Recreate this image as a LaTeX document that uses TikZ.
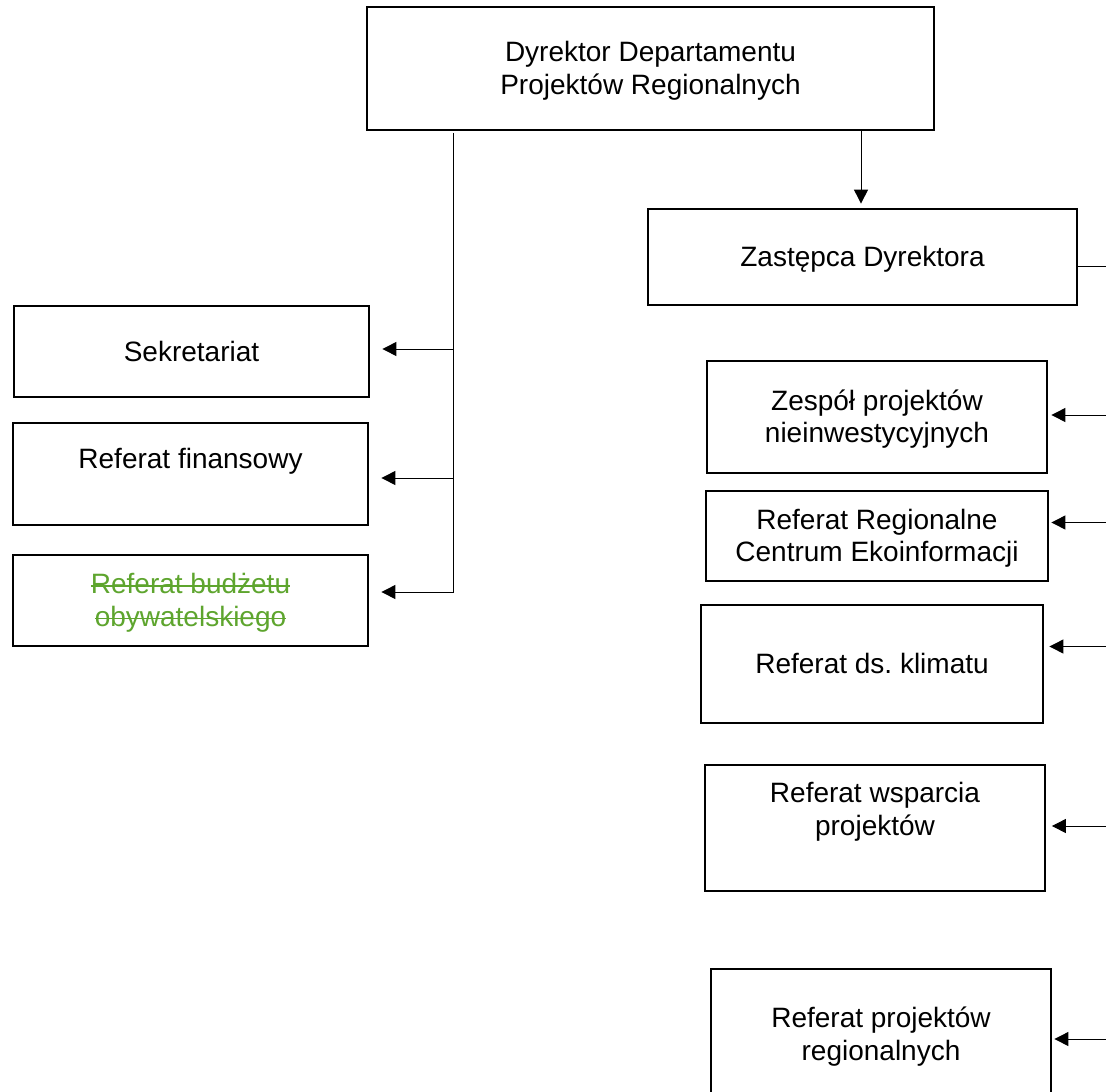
\documentclass[tikz,border=0pt]{standalone}
\usepackage{fontspec}
\setmainfont{Liberation Sans}
\usetikzlibrary{arrows.meta}
\definecolor{strikegreen}{RGB}{94,165,46}
\newcommand{\mystrike}[1]{\setbox0\hbox{#1}\rlap{\raisebox{0.5ex}{\rule{\wd0}{1.5pt}}}\box0}
\frenchspacing
\begin{document}
\begin{tikzpicture}[x=1pt,y=-1pt,
  box/.style={draw, line width=2.8pt, align=center, font=\fontsize{28}{32.5}\selectfont},
  txt/.style={align=center, inner sep=0pt, font=\fontsize{28}{32.5}\selectfont},
  oneline/.style={text height=25.3pt, text depth=5.9pt},
  twoline/.style={text height=57.8pt, text depth=5.9pt},
  conn/.style={line width=1pt},
  arr/.style={conn, -{Triangle[length=14pt,width=14pt]}}]
\fill[white] (0,0) rectangle (1106,1092);
\useasboundingbox (0,0) rectangle (1106,1092);

% left column
\node[box, twoline, minimum width=567pt, minimum height=123pt] (dir) at (650.5,68.5) {Dyrektor Departamentu\\Projektów Regionalnych};
\node[box, oneline, minimum width=429pt, minimum height=96pt] (zast) at (862.5,257) {Zastępca Dyrektora};
\node[box, oneline, minimum width=355pt, minimum height=91pt] (sek) at (191.5,351.5) {Sekretariat};
\node[box, minimum width=355pt, minimum height=102pt] (fin) at (190.5,474) {};
\node[txt, anchor=base] (fintxt) at (190.5,468) {Referat finansowy};
\node[box, twoline, minimum width=355pt, minimum height=91pt, text=strikegreen] (bud) at (190.5,600.5) {\mystrike{Referat budżetu}\\\mystrike{obywatelskiego}};

% right column
\node[box, twoline, minimum width=340pt, minimum height=112pt] (zesp) at (877,417) {Zespół projektów\\nieinwestycyjnych};
\node[box, twoline, minimum width=342pt, minimum height=90pt] (reg) at (877,536) {Referat Regionalne\\Centrum Ekoinformacji};
\node[box, oneline, minimum width=342pt, minimum height=118pt] (klim) at (872,664) {Referat ds. klimatu};
\node[box, minimum width=340pt, minimum height=126pt] (wsp) at (875,828) {};
\node[txt, twoline, anchor=north] (wsptxt) at (875,777) {Referat wsparcia\\projektów};
\node[box, twoline, minimum width=340pt, minimum height=131pt] (proj) at (881,1034.5) {Referat projektów\\regionalnych};

% left trunk
\coordinate (lt) at (453,0);
\coordinate (l1) at (453,349);
\coordinate (l2) at (453,478);
\coordinate (l3) at (453,592);
\draw[arr, shorten <=1.5pt, shorten >=12pt] (dir.south -| lt) -- (l3) -- (l3 -| bud.east);
\draw[arr, shorten >=12pt] (l1) -- (l1 -| sek.east);
\draw[arr, shorten >=12pt] (l2) -- (l2 -| fin.east);

% director to deputy
\coordinate (dt) at (861,0);
\draw[arr, shorten >=4pt] (dir.south -| dt) -- (zast.north -| dt);

% deputy to right edge
\coordinate (zr) at (1106,266);
\draw[conn] (zast.east |- zr) -- (zr);

% right arrows
\coordinate (r1) at (1106,415);
\coordinate (r2) at (1106,522.5);
\coordinate (r3) at (1106,646.5);
\coordinate (r4) at (1106,826);
\coordinate (r5) at (1106,1039);
\draw[arr, shorten >=3pt] (r1) -- (r1 -| zesp.east);
\draw[arr, shorten >=2pt] (r2) -- (r2 -| reg.east);
\draw[arr, shorten >=5pt] (r3) -- (r3 -| klim.east);
\draw[arr, shorten >=5.5pt] (r4) -- (r4 -| wsp.east);
\draw[arr, shorten >=2pt] (r5) -- (r5 -| proj.east);
\end{tikzpicture}
\end{document}
